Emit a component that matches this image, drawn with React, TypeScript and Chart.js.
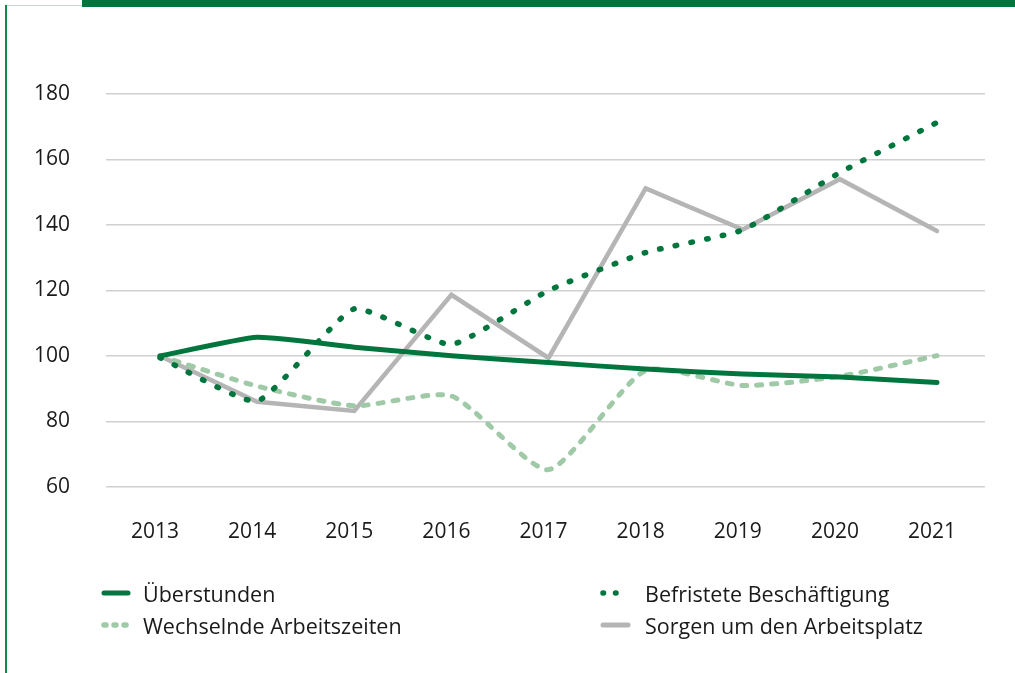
import React, { useEffect, useRef } from "react";
import { Chart, registerables } from "chart.js";

Chart.register(...registerables);

// ---- data ----
const years = [2013, 2014, 2015, 2016, 2017, 2018, 2019, 2020, 2021];
const ueberstunden = [100, 105.7, 102.7, 100.1, 98.0, 96.0, 94.5, 93.6, 91.9];
const befristete = [99.5, 86.2, 114.4, 103.5, 120.0, 131.6, 138.5, 156.0, 171.3];
const wechselnde = [100, 90.8, 84.8, 87.8, 65.3, 95.6, 91.0, 93.8, 100.1];
const sorgen = [100, 86.0, 83.2, 118.7, 99.4, 151.2, 138.6, 154.0, 138.2];
const yTickValues = [60, 80, 100, 120, 140, 160, 180];

const DARK_GREEN = "#00763e";
const LIGHT_GREEN = "#9fc9a7";
const GRAY = "#b5b5b5";
const TEXT = "#1a1a1a";
const FONT = "'Open Sans', 'Noto Sans', sans-serif";

const toXY = (vals: number[]) => years.map((yr, i) => ({ x: yr, y: vals[i] }));

const legendItems = [
  { label: "Überstunden", color: DARK_GREEN, dash: [] as number[], width: 5, col: 0, row: 0 },
  { label: "Befristete Beschäftigung", color: DARK_GREEN, dash: [0.5, 12], width: 5.5, col: 1, row: 0 },
  { label: "Wechselnde Arbeitszeiten", color: LIGHT_GREEN, dash: [2, 8], width: 5.5, col: 0, row: 1 },
  { label: "Sorgen um den Arbeitsplatz", color: GRAY, dash: [] as number[], width: 5, col: 1, row: 1 },
];

const legendPlugin = {
  id: "customLegend",
  afterDraw(chart: any) {
    const ctx = chart.ctx as CanvasRenderingContext2D;
    const cols = [
      { x0: 104, x1: 128, tx: 143 },
      { x0: 603, x1: 628, tx: 645 },
    ];
    const rows = [{ ly: 593, by: 602 }, { ly: 625, by: 634 }];
    legendItems.forEach((it) => {
      const c = cols[it.col];
      const r = rows[it.row];
      ctx.save();
      ctx.strokeStyle = it.color;
      ctx.lineWidth = it.width;
      ctx.lineCap = "round";
      ctx.setLineDash(it.dash);
      ctx.beginPath();
      ctx.moveTo(c.x0, r.ly);
      ctx.lineTo(c.x1, r.ly);
      ctx.stroke();
      ctx.restore();
      ctx.save();
      ctx.fillStyle = TEXT;
      ctx.font = `21.5px ${FONT}`;
      ctx.textBaseline = "alphabetic";
      ctx.textAlign = "left";
      ctx.fillText(it.label, c.tx, r.by);
      ctx.restore();
    });
  },
};

export default function App() {
  const canvasRef = useRef<HTMLCanvasElement | null>(null);

  useEffect(() => {
    if (!canvasRef.current) return;
    const chart = new Chart(canvasRef.current, {
      type: "line",
      data: {
        datasets: [
          {
            label: "Überstunden",
            data: toXY(ueberstunden),
            borderColor: DARK_GREEN,
            borderWidth: 5,
            pointRadius: 0,
            tension: 0.15,
            borderJoinStyle: "round",
            borderCapStyle: "round",
            order: 0,
            clip: false as any,
          },
          {
            label: "Befristete Beschäftigung",
            data: toXY(befristete),
            borderColor: DARK_GREEN,
            borderWidth: 5.5,
            borderDash: [1.5, 14.5],
            borderCapStyle: "round",
            pointRadius: 0,
            tension: 0.15,
            order: 1,
            clip: false as any,
          },
          {
            label: "Wechselnde Arbeitszeiten",
            data: toXY(wechselnde),
            borderColor: LIGHT_GREEN,
            borderWidth: 5,
            borderDash: [5, 10],
            borderCapStyle: "round",
            pointRadius: 0,
            tension: 0.2,
            order: 2,
            clip: false as any,
          },
          {
            label: "Sorgen um den Arbeitsplatz",
            data: toXY(sorgen),
            borderColor: GRAY,
            borderWidth: 4.5,
            pointRadius: 0,
            tension: 0,
            borderCapStyle: "round",
            order: 3,
            clip: false as any,
          },
        ],
      },
      options: {
        animation: false,
        responsive: false,
        maintainAspectRatio: false,
        layout: { padding: { top: 94, right: 30, left: 0, bottom: 0 } },
        plugins: {
          legend: { display: false },
          tooltip: { enabled: false },
          title: { display: false },
        },
        scales: {
          x: {
            type: "linear",
            min: 2012.444,
            max: 2021.494,
            afterBuildTicks: (scale: any) => {
              scale.ticks = years.map((v) => ({ value: v }));
            },
            afterFit: (scale: any) => {
              scale.height = 673 - 487;
            },
            grid: { display: false, drawTicks: false },
            border: { display: false },
            ticks: {
              callback: (v: any) => String(v),
              color: TEXT,
              font: { family: FONT, size: 21 },
              padding: 32,
              labelOffset: -5,
              maxRotation: 0,
              autoSkip: false,
            },
          },
          y: {
            min: 60,
            max: 180,
            afterBuildTicks: (scale: any) => {
              scale.ticks = yTickValues.map((v) => ({ value: v }));
            },
            afterFit: (scale: any) => {
              scale.width = 106;
            },
            grid: { color: "#d0d0d0", lineWidth: 1.5, drawTicks: false },
            border: { display: false },
            ticks: {
              callback: (v: any) => String(v),
              color: TEXT,
              font: { family: FONT, size: 21 },
              padding: 36,
            },
          },
        },
      },
      plugins: [legendPlugin],
    });
    return () => chart.destroy();
  }, []);

  return (
    <div style={{ position: "absolute", left: 0, top: 0, width: 1015, height: 673, background: "#fff", overflow: "hidden" }}>
      <div style={{ position: "absolute", left: 82, top: 0, width: 933, height: 7, background: DARK_GREEN }} />
      <div style={{ position: "absolute", left: 5, top: 5, width: 77, height: 1, background: "#c9d9cf" }} />
      <div style={{ position: "absolute", left: 5, top: 5, width: 2, height: 668, background: "#0b8a4a" }} />
      <canvas ref={canvasRef} width={1015} height={673} style={{ position: "absolute", left: 0, top: 0 }} />
    </div>
  );
}
